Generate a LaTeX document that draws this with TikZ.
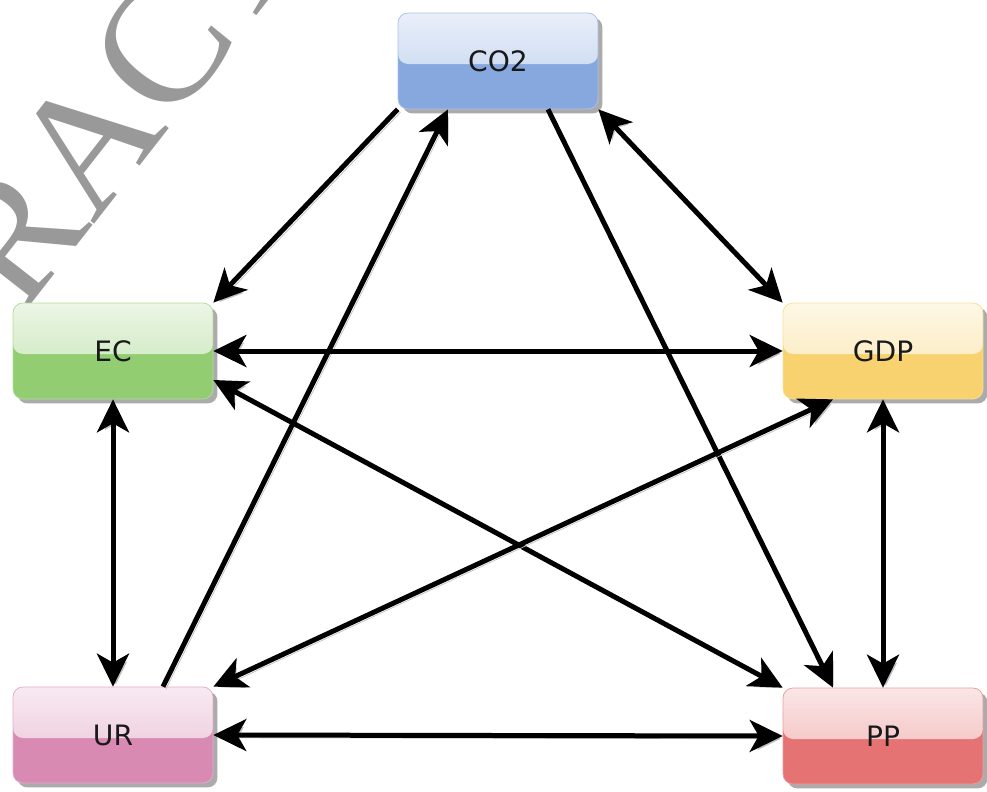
\documentclass[tikz,border=0pt]{standalone}
\usepackage{fontspec}
\usetikzlibrary{arrows.meta, shadows}

\newfontfamily\labelfont{DejaVu Sans}
\newfontfamily\markfont{Liberation Serif}

\definecolor{co2col}{HTML}{86A8DE}
\definecolor{eccol}{HTML}{92CD72}
\definecolor{gdpcol}{HTML}{F7D26E}
\definecolor{urcol}{HTML}{D98AB3}
\definecolor{ppcol}{HTML}{E67373}

\tikzset{
  box/.style={draw=#1!70!white, fill=#1, rounded corners=0.2cm,
    minimum width=4cm, minimum height=1.92cm, text=black!90,
    font=\labelfont\fontsize{16}{19}\selectfont,
    drop shadow={shadow xshift=0.09cm, shadow yshift=-0.09cm, opacity=0.6, fill=black!55},
    path picture={\shade[top color=#1!18!white, bottom color=#1!55!white]
      (path picture bounding box.north west) rectangle ([yshift=-0.06cm]path picture bounding box.east);}},
  link/.style={line width=0.1cm,
    >={Stealth[length=0.66cm, width=0.64cm, inset=0.18cm]},
    preaction={draw=black!25, transform canvas={xshift=1.6pt, yshift=-1.6pt}}}
}

\begin{document}
\begin{tikzpicture}[x=0.02cm, y=-0.02cm]
  \useasboundingbox (0,0) rectangle (987,791);

  % Watermark
  \begin{scope}
    \clip (0,0) rectangle (987,791);
    \node[text=black!40, rotate=52, font=\markfont\fontsize{98}{98}\selectfont] (mark) at (120,100) {RACT};
  \end{scope}

  % Draw boxes
  \node[box=co2col] (co2) at (498,61) {CO2};
  \node[box=eccol] (ec) at (113,351) {EC};
  \node[box=gdpcol] (gdp) at (883,351) {GDP};
  \node[box=urcol] (ur) at (113,735) {UR};
  \node[box=ppcol] (pp) at (883,736) {PP};

  % One-way links
  \draw[link, ->] (co2.south west) -- (ec.north east);
  \draw[link, ->] ([xshift=1cm]ur.north) -- ([xshift=-1cm]co2.south);
  \draw[link, ->] ([xshift=1cm]co2.south) -- ([xshift=-1cm]pp.north);

  % Two-way links
  \foreach \a/\b in {co2.south east/gdp.north west, ec.east/gdp.west, ec.south/ur.north,
                     gdp.south/pp.north, ur.east/pp.west} {
    \draw[link, <->] (\a) -- (\b);
  }
  \draw[link, <->] ([yshift=-0.58cm]ec.east) -- (pp.north west);
  \draw[link, <->] (ur.north east) -- ([xshift=-1cm]gdp.south);

\end{tikzpicture}
\end{document}
